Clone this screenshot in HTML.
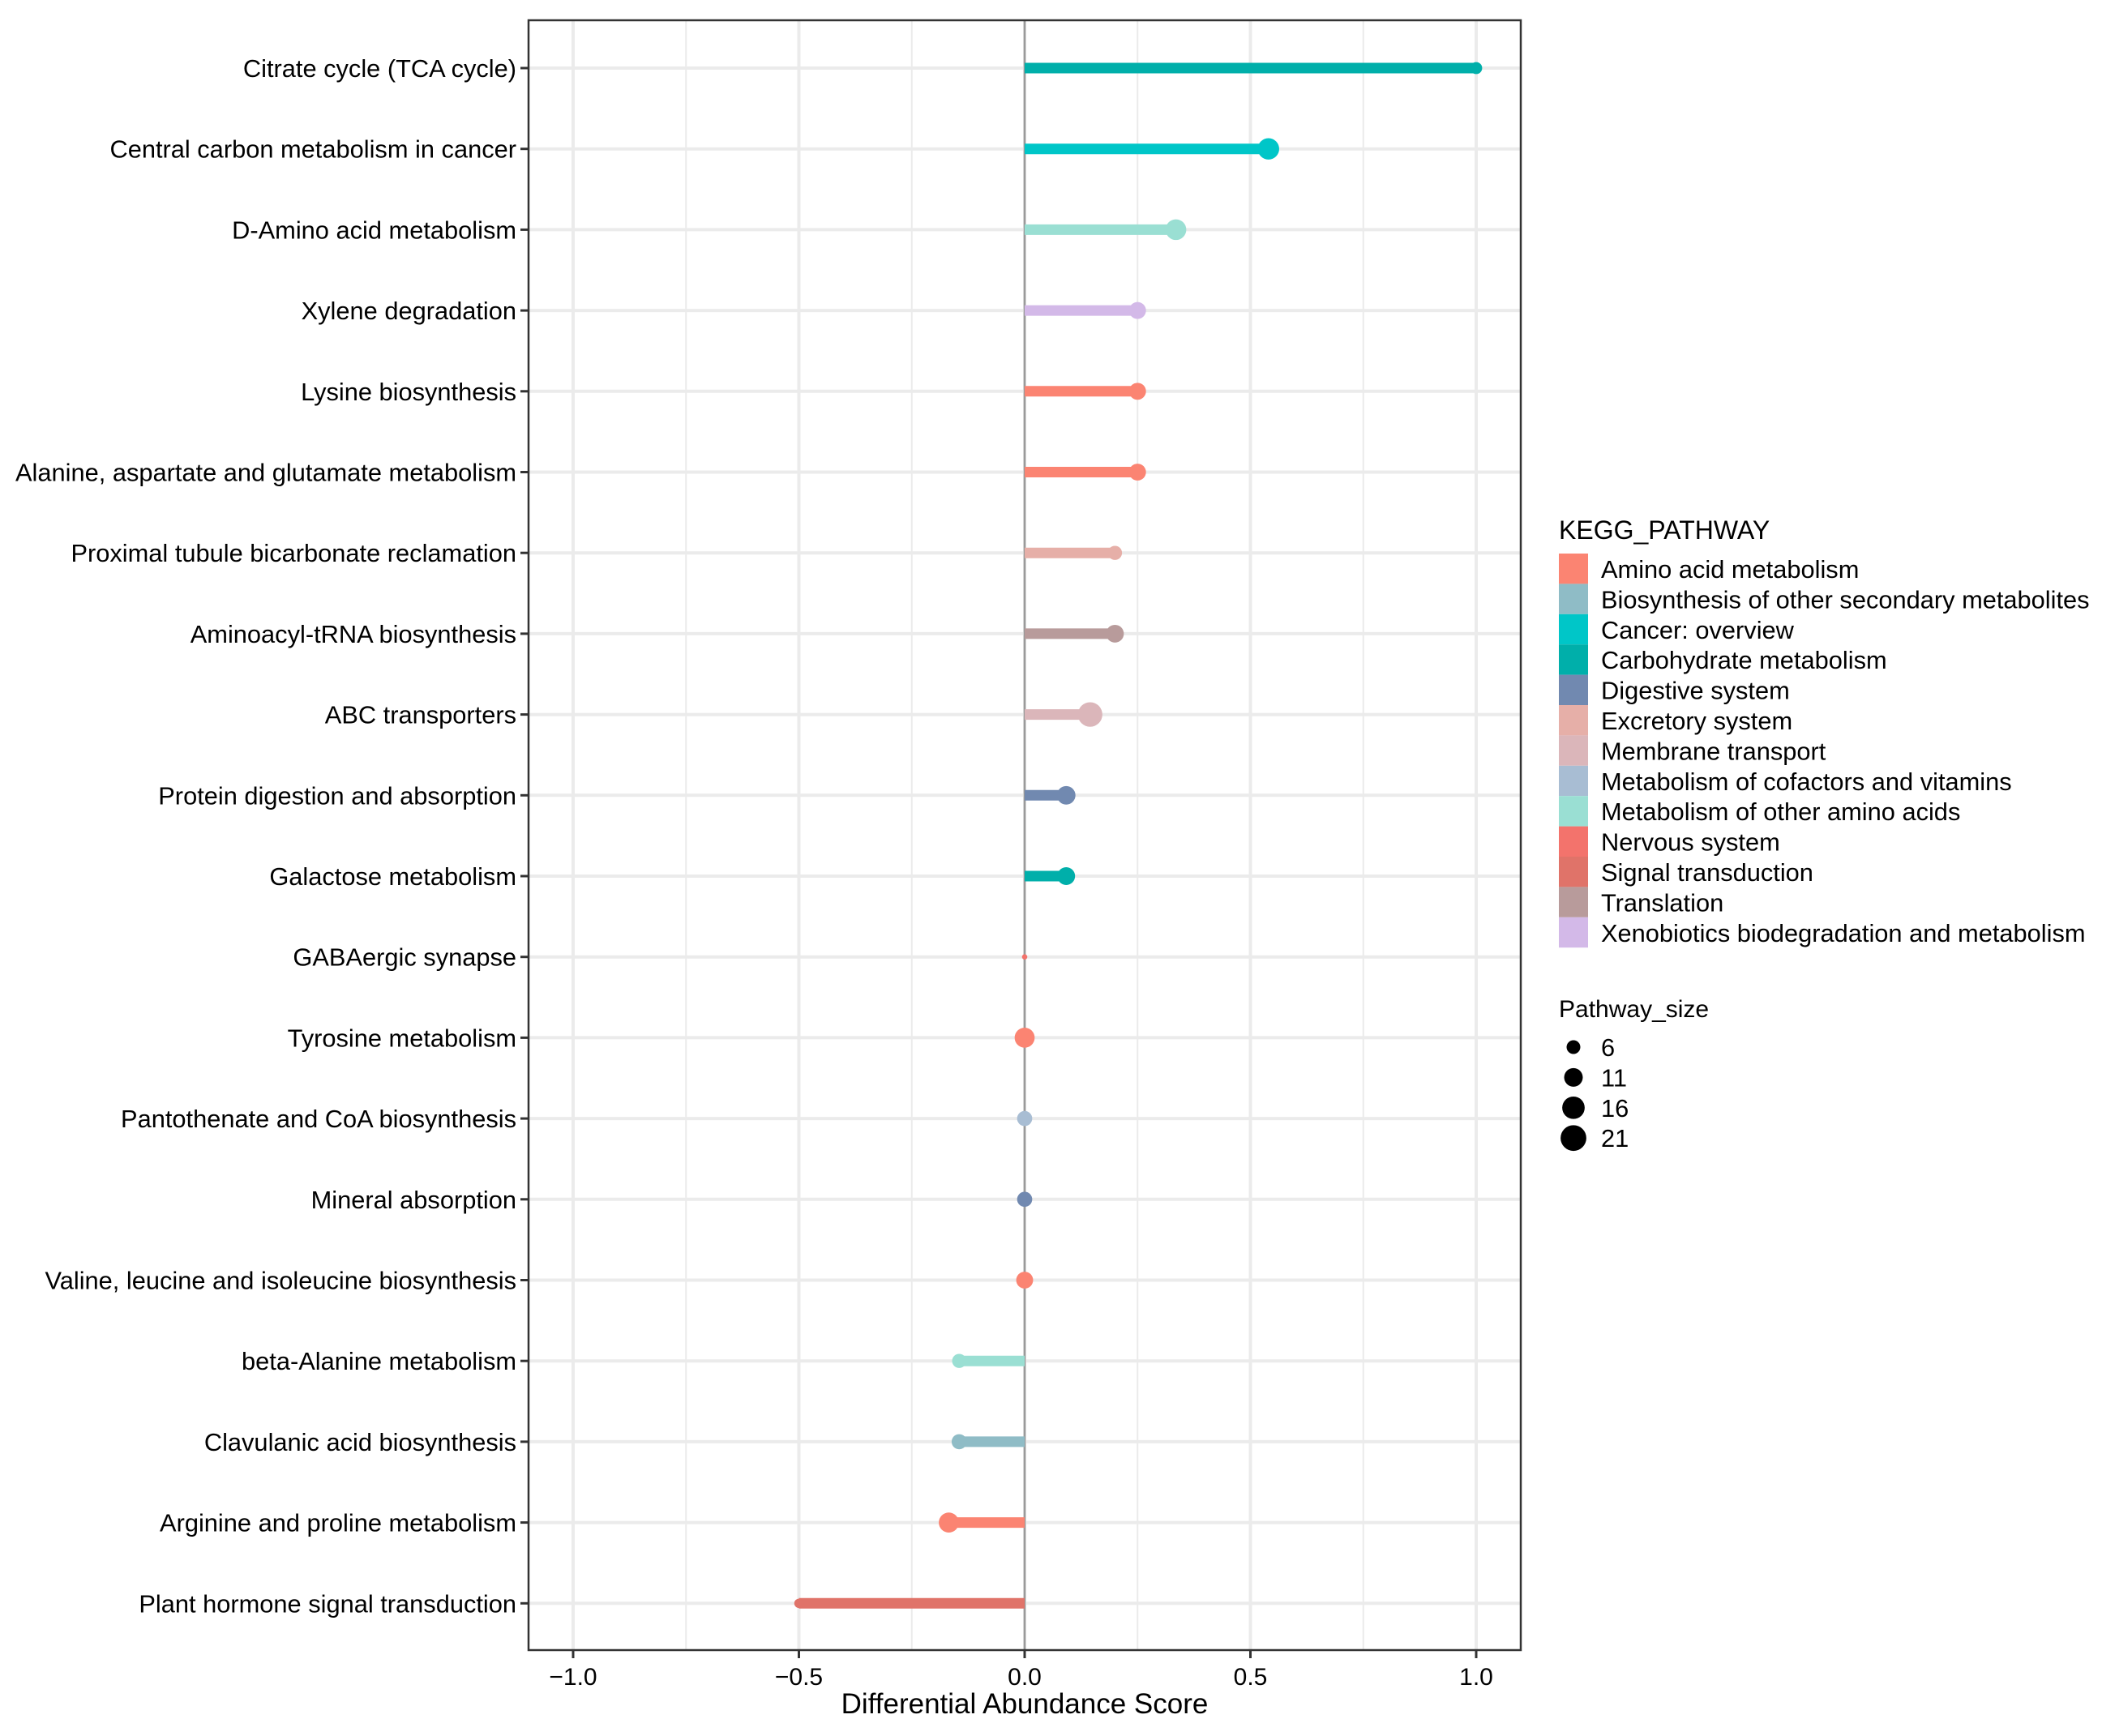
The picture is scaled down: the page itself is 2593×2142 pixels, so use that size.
<!DOCTYPE html>
<html><head><meta charset="utf-8"><style>
html,body{margin:0;padding:0;background:#fff;}
svg text{font-family:"Liberation Sans",Arial,sans-serif;fill:#000;}
</style></head><body>
<svg id="chart" width="2593" height="2137" xmlns="http://www.w3.org/2000/svg"></svg>
<script>
const pathways = ["Citrate cycle (TCA cycle)","Central carbon metabolism in cancer","D-Amino acid metabolism","Xylene degradation","Lysine biosynthesis","Alanine, aspartate and glutamate metabolism","Proximal tubule bicarbonate reclamation","Aminoacyl-tRNA biosynthesis","ABC transporters","Protein digestion and absorption","Galactose metabolism","GABAergic synapse","Tyrosine metabolism","Pantothenate and CoA biosynthesis","Mineral absorption","Valine, leucine and isoleucine biosynthesis","beta-Alanine metabolism","Clavulanic acid biosynthesis","Arginine and proline metabolism","Plant hormone signal transduction"];
const scores = [1.0,0.54,0.335,0.25,0.25,0.25,0.2,0.2,0.145,0.092,0.092,0.0,0.0,0.0,0.0,0.0,-0.145,-0.145,-0.168,-0.5];
const sizes = [5,16,15,10,10,10,7,11,21,12,11,1,14,8,8,10,7,8,14,3];
const cats = [3,2,8,12,0,0,5,11,6,4,3,9,0,7,4,0,8,1,0,10];
const catNames = ["Amino acid metabolism","Biosynthesis of other secondary metabolites","Cancer: overview","Carbohydrate metabolism","Digestive system","Excretory system","Membrane transport","Metabolism of cofactors and vitamins","Metabolism of other amino acids","Nervous system","Signal transduction","Translation","Xenobiotics biodegradation and metabolism"];
const catColors = ["#FB8472","#8FBCC6","#00C6C8","#00AFAA","#7189B0","#E6AFA8","#DBB6BA","#A8BDD3","#9ADFD3","#F3736C","#E07369","#B89B9B","#D3B9E8"];
const xTicks = [-1.0,-0.5,0.0,0.5,1.0];
const xTickLabels = ["\u22121.0","\u22120.5","0.0","0.5","1.0"];
const sizeBreaks = [6,11,16,21];

const NS="http://www.w3.org/2000/svg";
const svg=document.getElementById('chart');
const L=652,R=1876,T=25,B=2036;
const x0=1264,ux=557;
function xs(v){return x0+v*ux;}
function ys(i){return 84+i*99.7;}
function rs(s){return 3.3*Math.sqrt(s);}
function mk(tag,attrs,parent){const e=document.createElementNS(NS,tag);for(const k in attrs)e.setAttribute(k,attrs[k]);(parent||svg).appendChild(e);return e;}

for(const v of [-0.75,-0.25,0.25,0.75]){
  const g=mk('line',{x1:xs(v),x2:xs(v),y1:T,y2:B,stroke:'#ebebeb','stroke-width':2});
  
  
}
for(const v of xTicks){
  const g=mk('line',{x1:xs(v),x2:xs(v),y1:T,y2:B,stroke:'#ebebeb','stroke-width':4});
  
  
}
pathways.forEach((p,i)=>{
  const g=mk('line',{x1:L,x2:R,y1:ys(i),y2:ys(i),stroke:'#ebebeb','stroke-width':4});
  
  
});
const zl=mk('line',{x1:x0,x2:x0,y1:T,y2:B,stroke:'#9a9a9a','stroke-width':2.5});



pathways.forEach((p,i)=>{
  const c=catColors[cats[i]];
  const seg=mk('line',{x1:x0,x2:xs(scores[i]),y1:ys(i),y2:ys(i),stroke:c,'stroke-width':13});
  
  
  const dot=mk('circle',{cx:xs(scores[i]),cy:ys(i),r:rs(sizes[i]),fill:c});
  
  
  const t=mk('text',{x:637,y:ys(i)+11,'text-anchor':'end','font-size':30.8});
  t.textContent=p;
  
  
  const tk=mk('line',{x1:642,x2:L,y1:ys(i),y2:ys(i),stroke:'#333','stroke-width':3});
  
  
});

const pb=mk('rect',{x:L,y:T,width:R-L,height:B-T,fill:'none',stroke:'#333','stroke-width':2.5});



xTicks.forEach((v,i)=>{
  const tk=mk('line',{x1:xs(v),x2:xs(v),y1:B,y2:B+10,stroke:'#333','stroke-width':3});
  
  
  const t=mk('text',{x:xs(v),y:B+43,'text-anchor':'middle','font-size':30});
  t.textContent=xTickLabels[i];
  
  
});
const xt=mk('text',{x:x0,y:2114,'text-anchor':'middle','font-size':35});
xt.textContent='Differential Abundance Score';



const lt=mk('text',{x:1923,y:665,'font-size':32});
lt.textContent='KEGG_PATHWAY';


catNames.forEach((n,i)=>{
  const y=683+i*37.4;
  const k=mk('rect',{x:1923,y:y,width:36,height:37.4,fill:catColors[i]});
  
  
  const t=mk('text',{x:1975,y:y+30,'font-size':30.8});
  t.textContent=n;
  
  
});
const st=mk('text',{x:1923,y:1255,'font-size':30});
st.textContent='Pathway_size';


sizeBreaks.forEach((s,i)=>{
  const y=1292+i*37.4;
  const c=mk('circle',{cx:1941,cy:y,r:rs(s)*1.05,fill:'#000'});
  
  
  const t=mk('text',{x:1975,y:y+11,'font-size':30.8});
  t.textContent=String(s);
  
  
});
</script>
</body></html>
